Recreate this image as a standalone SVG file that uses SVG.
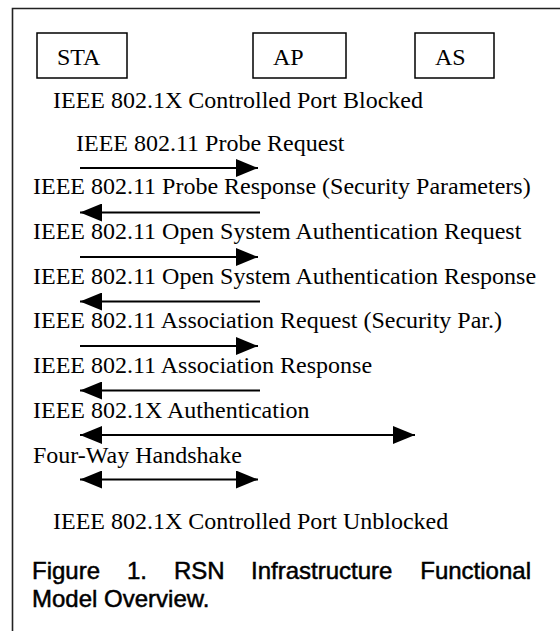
<svg xmlns="http://www.w3.org/2000/svg" width="560" height="631" viewBox="0 0 560 631">
<defs>
<style>
.t{font-family:"Liberation Serif","Times New Roman",serif;font-size:24px;fill:#000}
.c{font-family:"Liberation Sans",Arial,sans-serif;font-size:24px;fill:#000;stroke:#000;stroke-width:0.5}
.box{fill:#fff;stroke:#000;stroke-width:1.5}
.ln{stroke:#000;stroke-width:2;fill:none}
.frame{stroke:#222;stroke-width:1.6;fill:none}
</style>
<marker id="ah" viewBox="0 0 22 18" refX="22" refY="9" markerWidth="22" markerHeight="18" markerUnits="userSpaceOnUse" orient="auto-start-reverse">
<path d="M0,0 L22,9 L0,18 Z" fill="#000"/>
</marker>
</defs>
<rect width="560" height="631" fill="#fff"/>
<path class="frame" d="M12.5,631 V8.5 H560"/>
<g id="sta"><rect class="box" x="37" y="33" width="90" height="45"/><text class="t" x="57" y="65">STA</text></g>
<g id="ap"><rect class="box" x="253" y="33" width="93" height="45"/><text class="t" x="273" y="65">AP</text></g>
<g id="as"><rect class="box" x="415" y="33" width="79" height="45"/><text class="t" x="435" y="65">AS</text></g>
<g id="labels">
<text class="t" x="53" y="108">IEEE 802.1X Controlled Port Blocked</text>
<text class="t" x="76" y="151">IEEE 802.11 Probe Request</text>
<text class="t" x="33" y="194">IEEE 802.11 Probe Response (Security Parameters)</text>
<text class="t" x="33" y="239">IEEE 802.11 Open System Authentication Request</text>
<text class="t" x="33" y="284">IEEE 802.11 Open System Authentication Response</text>
<text class="t" x="33" y="328">IEEE 802.11 Association Request (Security Par.)</text>
<text class="t" x="33" y="373">IEEE 802.11 Association Response</text>
<text class="t" x="33" y="418">IEEE 802.1X Authentication</text>
<text class="t" x="33" y="463">Four-Way Handshake</text>
<text class="t" x="53" y="529">IEEE 802.1X Controlled Port Unblocked</text>
</g>
<g id="caption">
<text class="c" y="579"><tspan x="32">Figure</tspan> <tspan x="127">1.</tspan> <tspan x="174">RSN</tspan> <tspan x="251">Infrastructure</tspan> <tspan x="531" text-anchor="end">Functional</tspan></text>
<text class="c" x="32" y="607">Model Overview.</text>
</g>
<g id="connectors">
<line class="ln" x1="80" y1="168" x2="258" y2="168" marker-end="url(#ah)"/>
<line class="ln" x1="260" y1="212.5" x2="80" y2="212.5" marker-end="url(#ah)"/>
<line class="ln" x1="80" y1="257" x2="258" y2="257" marker-end="url(#ah)"/>
<line class="ln" x1="260" y1="301.5" x2="80" y2="301.5" marker-end="url(#ah)"/>
<line class="ln" x1="80" y1="346" x2="258" y2="346" marker-end="url(#ah)"/>
<line class="ln" x1="260" y1="390.5" x2="80" y2="390.5" marker-end="url(#ah)"/>
<line class="ln" x1="80" y1="435" x2="415" y2="435" marker-start="url(#ah)" marker-end="url(#ah)"/>
<line class="ln" x1="80" y1="479.5" x2="258" y2="479.5" marker-start="url(#ah)" marker-end="url(#ah)"/>
</g>
</svg>
